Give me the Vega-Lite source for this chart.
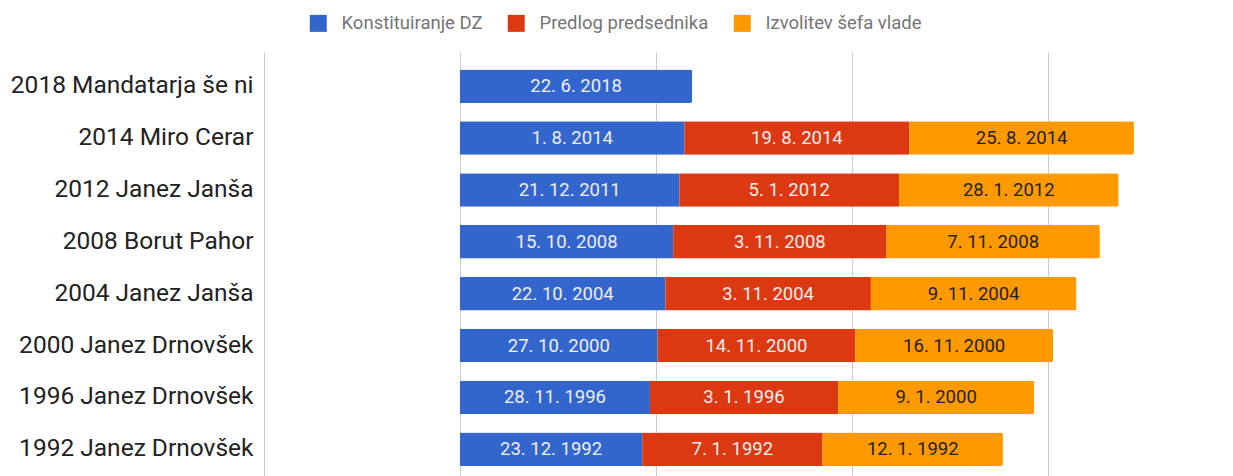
{
  "$schema": "https://vega.github.io/schema/vega-lite/v6.json",
  "autosize": "none",
  "width": 969,
  "height": 424,
  "padding": {"left": 264, "top": 52, "right": 0, "bottom": 0},
  "background": "white",
  "config": {"view": {"stroke": null}, "font": "Roboto"},
  "data": {"values": [
    {"vlada": "2018 Mandatarja še ni", "faza": "Konstituiranje DZ", "o": 0, "v": 118.47, "datum_txt": "22. 6. 2018"},
    {"vlada": "2014 Miro Cerar", "faza": "Konstituiranje DZ", "o": 0, "v": 114.58, "datum_txt": "1. 8. 2014"},
    {"vlada": "2014 Miro Cerar", "faza": "Predlog predsednika", "o": 1, "v": 114.63, "datum_txt": "19. 8. 2014"},
    {"vlada": "2014 Miro Cerar", "faza": "Izvolitev šefa vlade", "o": 2, "v": 114.65, "datum_txt": "25. 8. 2014"},
    {"vlada": "2012 Janez Janša", "faza": "Konstituiranje DZ", "o": 0, "v": 111.97, "datum_txt": "21. 12. 2011"},
    {"vlada": "2012 Janez Janša", "faza": "Predlog predsednika", "o": 1, "v": 112.01, "datum_txt": "5. 1. 2012"},
    {"vlada": "2012 Janez Janša", "faza": "Izvolitev šefa vlade", "o": 2, "v": 112.07, "datum_txt": "28. 1. 2012"},
    {"vlada": "2008 Borut Pahor", "faza": "Konstituiranje DZ", "o": 0, "v": 108.79, "datum_txt": "15. 10. 2008"},
    {"vlada": "2008 Borut Pahor", "faza": "Predlog predsednika", "o": 1, "v": 108.84, "datum_txt": "3. 11. 2008"},
    {"vlada": "2008 Borut Pahor", "faza": "Izvolitev šefa vlade", "o": 2, "v": 108.85, "datum_txt": "7. 11. 2008"},
    {"vlada": "2004 Janez Janša", "faza": "Konstituiranje DZ", "o": 0, "v": 104.81, "datum_txt": "22. 10. 2004"},
    {"vlada": "2004 Janez Janša", "faza": "Predlog predsednika", "o": 1, "v": 104.84, "datum_txt": "3. 11. 2004"},
    {"vlada": "2004 Janez Janša", "faza": "Izvolitev šefa vlade", "o": 2, "v": 104.86, "datum_txt": "9. 11. 2004"},
    {"vlada": "2000 Janez Drnovšek", "faza": "Konstituiranje DZ", "o": 0, "v": 100.82, "datum_txt": "27. 10. 2000"},
    {"vlada": "2000 Janez Drnovšek", "faza": "Predlog predsednika", "o": 1, "v": 100.87, "datum_txt": "14. 11. 2000"},
    {"vlada": "2000 Janez Drnovšek", "faza": "Izvolitev šefa vlade", "o": 2, "v": 100.87, "datum_txt": "16. 11. 2000"},
    {"vlada": "1996 Janez Drnovšek", "faza": "Konstituiranje DZ", "o": 0, "v": 96.91, "datum_txt": "28. 11. 1996"},
    {"vlada": "1996 Janez Drnovšek", "faza": "Predlog predsednika", "o": 1, "v": 96.01, "datum_txt": "3. 1. 1996"},
    {"vlada": "1996 Janez Drnovšek", "faza": "Izvolitev šefa vlade", "o": 2, "v": 100.02, "datum_txt": "9. 1. 2000"},
    {"vlada": "1992 Janez Drnovšek", "faza": "Konstituiranje DZ", "o": 0, "v": 92.98, "datum_txt": "23. 12. 1992"},
    {"vlada": "1992 Janez Drnovšek", "faza": "Predlog predsednika", "o": 1, "v": 92.02, "datum_txt": "7. 1. 1992"},
    {"vlada": "1992 Janez Drnovšek", "faza": "Izvolitev šefa vlade", "o": 2, "v": 92.03, "datum_txt": "12. 1. 1992"}
  ]},
  "encoding": {
    "y": {
      "field": "vlada", "type": "nominal", "sort": null, "title": null,
      "scale": {"paddingInner": 0.354, "paddingOuter": 0.265, "align": 0.636},
      "axis": {"ticks": false, "tickSize": 0, "domain": false, "grid": false, "labelPadding": 11, "labelFontSize": 24.5, "labelColor": "#222222", "labelFont": "Roboto", "labelLimit": 300}
    }
  },
  "layer": [
    {
      "mark": {"type": "bar", "cornerRadiusEnd": 2},
      "encoding": {
        "x": {
          "field": "v", "type": "quantitative", "stack": "zero", "title": null,
          "scale": {"domain": [-100, 394.4], "nice": false, "zero": false},
          "axis": {"grid": true, "gridColor": "#cccccc", "gridWidth": 1, "labels": false, "ticks": false, "domain": false, "values": [-100, 0, 100, 200, 300]}
        },
        "order": {"field": "o", "type": "quantitative"},
        "color": {
          "field": "faza", "type": "nominal",
          "scale": {"domain": ["Konstituiranje DZ", "Predlog predsednika", "Izvolitev šefa vlade"], "range": ["#3366cc", "#dc3912", "#ff9900"]},
          "legend": {
            "title": null, "orient": "none", "legendX": 45, "legendY": -38, "direction": "horizontal",
            "symbolType": "square", "symbolSize": 289, "symbolStrokeWidth": 0,
            "labelFontSize": 18.5, "labelColor": "#757575", "labelFont": "Roboto", "labelLimit": 400,
            "columnPadding": 24, "labelOffset": 14, "padding": 0
          }
        }
      }
    },
    {
      "transform": [
        {"stack": "v", "groupby": ["vlada"], "sort": [{"field": "o"}], "as": ["v0", "v1"]},
        {"calculate": "(datum.v0 + datum.v1) / 2", "as": "stred"}
      ],
      "mark": {"type": "text", "fontSize": 18.5, "font": "Roboto", "align": "center", "baseline": "middle"},
      "encoding": {
        "x": {"field": "stred", "type": "quantitative"},
        "text": {"field": "datum_txt"},
        "color": {"condition": {"test": "datum.o == 2", "value": "#222222"}, "value": "#eeeeee"}
      }
    }
  ]
}
